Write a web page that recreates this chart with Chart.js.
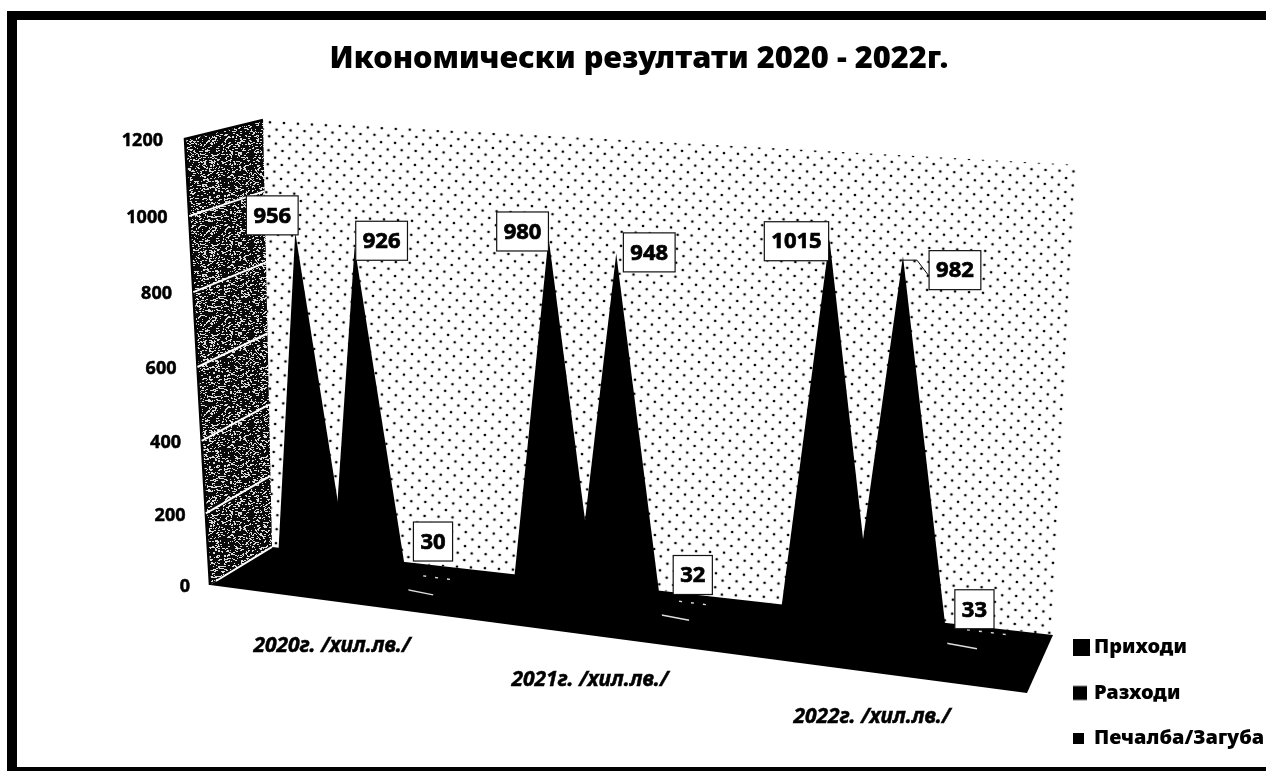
<!DOCTYPE html>
<html>
<head>
<meta charset="utf-8">
<title>Икономически резултати</title>
<script src="https://cdn.jsdelivr.net/npm/chart.js@4"></script>
<style>
  html, body { margin: 0; background: #fff; }
  canvas { display: block; }
</style>
</head>
<body>
<canvas id="myChart" width="1266" height="771"></canvas>
<script>
const categories = ['2020г. /хил.лв./', '2021г. /хил.лв./', '2022г. /хил.лв./']
const revenue = [956, 980, 1015]
const expenses = [926, 948, 982]
const profit = [30, 32, 33]
const seriesNames = ['Приходи', 'Разходи', 'Печалба/Загуба']
const yTicks = [0, 200, 400, 600, 800, 1000, 1200]

// label box offset from the cone tip, one row per series
const labelNudge = [
  [[-23, -17], [-26, -6], [-33, 2]],
  [[27, -6], [33, -1], [52, 14]],
  [[17, -42], [8, -34], [-4, -28]]
]
const categoryNudge = [-38, -28, -26]

const fontFamily = '"Noto Sans", sans-serif'
const ctx = document.getElementById('myChart').getContext('2d')

// --- fake 3D view ---
const baseLine = x => 583 + 0.099 * (x - 298)
const pxPerUnit = x => 0.364 + (x - 240) * 0.000045
const frontEdge = x => 585 + 0.132 * (x - 210)
// the wall's ticks are not evenly spaced in the picture, they bow a little downwards
const bow = v => 20 * (v / 1200) * (1 - v / 1200)

function sceneX(chart, u) {
  const area = chart.chartArea
  const v = (u - (area.left + area.right) / 2) / (area.width / 3)
  return 618 + 264 * v + 16 * v * v
}

function hash(x, y) {
  const s = Math.sin(x * 127.1 + y * 311.7) * 43758.5453
  return s - Math.floor(s)
}

function dotsPattern() {
  const c = document.createElement('canvas')
  c.width = 14
  c.height = 14
  const g = c.getContext('2d')
  g.fillStyle = '#000'
  ;[[3, 3], [10, 10]].forEach(d => {
    g.beginPath()
    g.arc(d[0], d[1], 1.35, 0, Math.PI * 2)
    g.fill()
  })
  const p = ctx.createPattern(c, 'repeat')
  p.setTransform(new DOMMatrix().rotate(3))
  return p
}

function noisePattern() {
  const c = document.createElement('canvas')
  c.width = 90
  c.height = 90
  const g = c.getContext('2d')
  g.fillStyle = '#0a0a0a'
  g.fillRect(0, 0, 90, 90)
  g.fillStyle = '#ddd'
  for (let y = 0; y < 90; y++) {
    for (let x = 0; x < 90; x++) {
      if (hash(x, y) < 0.18) g.fillRect(x, y, hash(y, x) < 0.5 ? 2 : 1, 1)
    }
  }
  return ctx.createPattern(c, 'repeat')
}

function poly(g, pts, fill) {
  g.beginPath()
  pts.forEach((p, i) => (i ? g.lineTo(p[0], p[1]) : g.moveTo(p[0], p[1])))
  g.closePath()
  g.fillStyle = fill
  g.fill()
}

function legendSwatch(size) {
  const c = document.createElement('canvas')
  c.width = 17
  c.height = 17
  const g = c.getContext('2d')
  g.fillStyle = '#000'
  g.fillRect(0, (17 - size) / 2, size, size)
  return c
}

function coneTip(chart, el) {
  const c = sceneX(chart, el.x)
  const x = c + (c - 650) * (c < 650 ? 0.055 : 0.02)
  const value = chart.scales.y.getValueForPixel(el.y)
  return { c, x, y: baseLine(x) - value * pxPerUnit(x) }
}

const scene = {
  id: 'scene',
  afterLayout(chart) {
    // legend sits in the lower right corner, under the plot height
    // (bottom is left past the page so the third row stays in the same column)
    const lg = chart.legend
    lg.left = 1079 - lg.options.labels.padding
    lg.right = 1266
    lg.top = 612
    lg.bottom = 900
  },
  beforeDraw(chart) {
    const g = chart.ctx
    const y = chart.scales.y
    const x = chart.scales.x
    // page frame
    g.fillStyle = '#000'
    g.fillRect(7, 11, 1259, 9)
    g.fillRect(7, 11, 10, 760)
    g.fillRect(7, 767, 1259, 4)
    // move the tick labels of both axes along the slanted edges
    y.getLabelItems(chart.chartArea).forEach((item, i) => {
      const v = y.ticks[i].value
      item.options.translation = [190 - (v / 1200) * 27, y.getPixelForValue(v) + bow(v) + 2]
    })
    x.getLabelItems(chart.chartArea).forEach((item, i) => {
      const px = sceneX(chart, x.getPixelForTick(i)) + categoryNudge[i]
      item.options.translation = [px, frontEdge(px) + 32]
      item.options.textBaseline = 'middle'
    })
  },
  beforeDatasetsDraw(chart) {
    const g = chart.ctx
    const y = chart.scales.y
    const front = v => [185 + (1200 - v) / 1200 * 25, y.getPixelForValue(v) + bow(v)]
    const back = v => [263 + (1200 - v) / 1200 * 9, 120 + (1200 - v) * 0.3558]
    poly(g, [back(1200), [1078, 165], [1053, 635], back(0)], dotsPattern())
    poly(g, [front(1200), back(1200), back(0), front(0)], noisePattern())
    poly(g, [front(0), back(0), [1053, 635], [1027, 693]], '#000')
    // dark rim round the side wall
    g.strokeStyle = '#000'
    g.lineWidth = 2.5
    g.beginPath()
    yTicks.forEach((v, i) => {
      const a = front(v)
      if (i) g.lineTo(a[0], a[1])
      else g.moveTo(a[0], a[1])
    })
    g.lineTo(back(1200)[0], back(1200)[1])
    g.stroke()
    // wall gridlines come from the y ticks
    g.strokeStyle = '#fff'
    g.lineWidth = 2
    y.ticks.forEach(t => {
      if (t.value === 1200) return
      const a = front(t.value)
      const b = back(t.value)
      g.beginPath()
      g.moveTo(t.value === 0 ? a[0] + 6 : a[0], t.value === 0 ? a[1] - 4 : a[1])
      g.lineTo(b[0], b[1])
      g.stroke()
    })
  },
  beforeDatasetDraw(chart, args) {
    const g = chart.ctx
    args.meta.data.forEach(el => {
      const tip = coneTip(chart, el)
      const l = sceneX(chart, el.x - el.width / 2)
      const r = sceneX(chart, el.x + el.width / 2)
      poly(g, [[tip.x, tip.y], [r, baseLine(r)], [l, baseLine(l)]], el.options.backgroundColor)
      if (args.index === 2) {
        // light rim of the small cone's base on the dark floor
        g.strokeStyle = '#ddd'
        g.lineWidth = 1.4
        g.beginPath()
        g.moveTo(l, baseLine(l) - 6)
        g.lineTo(tip.c + 5, baseLine(tip.c) - 1)
        g.stroke()
        g.setLineDash([3, 9])
        g.beginPath()
        g.moveTo(tip.c - 5, baseLine(tip.c) - 20)
        g.lineTo(r - 15, baseLine(r) - 20)
        g.stroke()
        g.setLineDash([])
      }
    })
    return false
  },
  afterDatasetsDraw(chart) {
    const g = chart.ctx
    g.font = 'bold 22px ' + fontFamily
    g.textAlign = 'center'
    g.textBaseline = 'middle'
    chart.data.datasets.forEach((ds, d) => {
      chart.getDatasetMeta(d).data.forEach((el, i) => {
        const tip = coneTip(chart, el)
        const cx = tip.x + labelNudge[d][i][0]
        const cy = tip.y + labelNudge[d][i][1]
        const text = String(ds.data[i])
        const w = g.measureText(text).width + 14
        if (ds.data[i] === 982) {
          // only this label is pulled away from its cone
          g.strokeStyle = '#000'
          g.lineWidth = 1
          g.beginPath()
          g.moveTo(tip.x - 2, tip.y + 4)
          g.lineTo(cx - 38, tip.y + 4)
          g.lineTo(cx - w / 2, cy + 6)
          g.stroke()
        }
        g.fillStyle = '#fff'
        g.fillRect(cx - w / 2, cy - 19.5, w, 39)
        g.strokeStyle = '#111'
        g.lineWidth = 1.2
        g.strokeRect(cx - w / 2, cy - 19.5, w, 39)
        g.fillStyle = '#000'
        g.fillText(text, cx, cy + 1)
        g.strokeStyle = '#000'
        g.lineWidth = 0.7
        g.strokeText(text, cx, cy + 1)
      })
    })
  }
}

const myChart = new Chart(ctx, {
  type: 'bar',
  data: {
    labels: categories,
    datasets: [
      { label: seriesNames[0], data: revenue, backgroundColor: '#000', pointStyle: legendSwatch(17) },
      { label: seriesNames[1], data: expenses, backgroundColor: '#000', pointStyle: legendSwatch(14) },
      { label: seriesNames[2], data: profit, backgroundColor: '#000', pointStyle: legendSwatch(11) }
    ]
  },
  options: {
    responsive: false,
    animation: false,
    layout: { padding: { left: 12 } },
    datasets: { bar: { categoryPercentage: 0.74, barPercentage: 1.35 } },
    scales: {
      x: {
        grid: { display: false },
        border: { display: false },
        ticks: {
          color: '#000',
          textStrokeColor: '#000',
          textStrokeWidth: 0.5,
          font: { family: fontFamily, size: 21, weight: 'bold', style: 'italic' },
          maxRotation: 0,
          minRotation: 0,
          autoSkip: false
        },
        afterFit: s => { s.height = 186 }
      },
      y: {
        min: 0,
        max: 1200,
        grid: { display: false, drawTicks: false },
        border: { display: false },
        afterBuildTicks: s => { s.ticks = yTicks.map(value => ({ value })) },
        ticks: {
          color: '#000',
          textStrokeColor: '#000',
          textStrokeWidth: 0.5,
          padding: 20,
          callback: v => String(v),
          font: { family: fontFamily, size: 18, weight: 'bold' }
        },
        afterFit: s => { s.width = 198 }
      }
    },
    plugins: {
      title: {
        display: true,
        text: 'Икономически резултати 2020 - 2022г.',
        color: '#000',
        font: { family: fontFamily, size: 30.8, weight: '900' },
        padding: { top: 40.5, bottom: 61.5 }
      },
      legend: {
        position: 'right',
        align: 'start',
        labels: {
          usePointStyle: true,
          boxWidth: 5,
          boxHeight: 17,
          padding: 25.5,
          color: '#000',
          font: { family: fontFamily, size: 20, weight: '900' }
        }
      },
      tooltip: { enabled: false }
    }
  },
  plugins: [scene]
})
</script>
</body>
</html>
